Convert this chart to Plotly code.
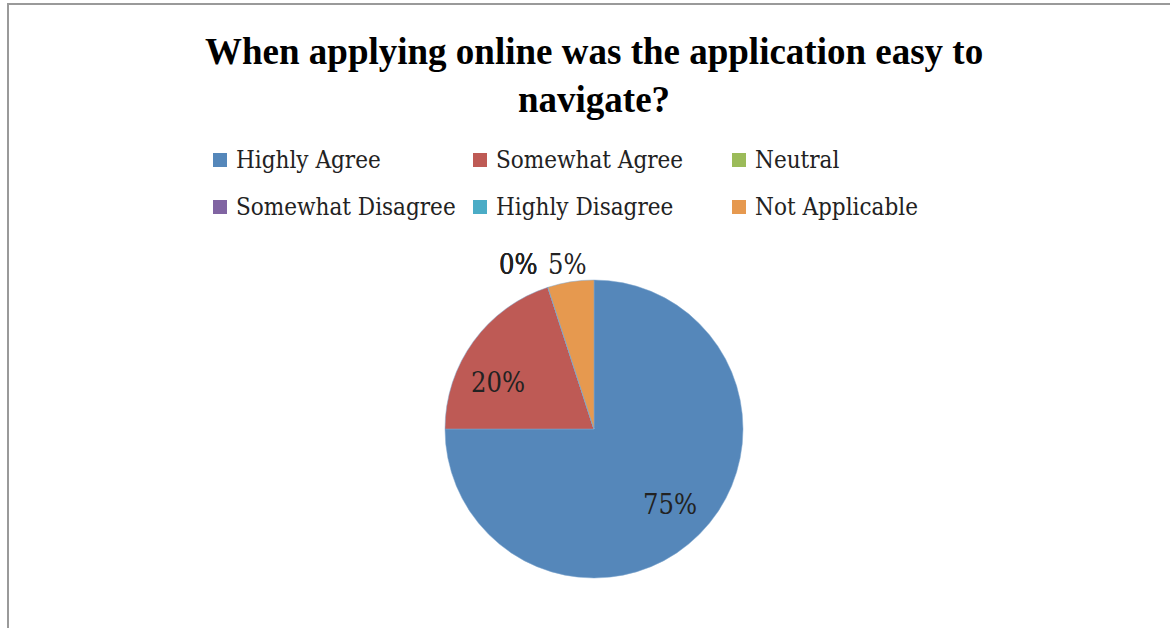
import math
import plotly.graph_objects as go

# Survey responses
categories = ["Highly Agree", "Somewhat Agree", "Neutral",
              "Somewhat Disagree", "Highly Disagree", "Not Applicable"]
shares = [75, 20, 0, 0, 0, 5]
colors = ["#5587BA", "#BE5A55", "#9BBB59", "#8064A2", "#4BACC6", "#E6994F"]
title_text = "<b>When applying online was the application easy to<br>navigate?</b>"

W, H = 1170, 628
label_font = "DejaVu Serif Condensed, Liberation Serif, serif"
text_color = "#222222"

# pie geometry in pixels
cx, cy, R = 594, 429, 149


def px(x):
    return x / W


def py(y):
    return 1 - y / H


fig = go.Figure(go.Pie(
    labels=categories,
    values=shares,
    sort=False,
    direction="clockwise",
    rotation=0,
    marker=dict(colors=colors, line=dict(color="#7FA7CF", width=0.5)),
    textinfo="none",
    domain=dict(x=[px(cx - R), px(cx + R)], y=[py(cy + R), py(cy - R)]),
    showlegend=False,
    hoverinfo="label+percent",
))

annotations = []

# data labels: inside labels near the slice mid-angle, outside labels just past the rim
total = sum(shares)
start = 0.0
label_size = 27
outside_ref = None
for cat, val in zip(categories, shares):
    sweep = 360.0 * val / total
    mid_deg = start + sweep / 2
    start += sweep
    inside = val >= 10
    if inside:
        # nudge large-slice labels toward the roomier side, as a best-fit placement would
        mid_deg -= 0.08 * (mid_deg - 180) if mid_deg > 180 else 0
        r = 0.72 * R
    else:
        r = 1.12 * R
    mid = math.radians(mid_deg)
    x = cx + r * math.sin(mid)
    y = cy - r * math.cos(mid)
    label = f"{val}%"
    if not inside and val > 0:
        outside_ref = (x - 0.3 * label_size * len(label), y)
    annotations.append(dict(text=label, x=px(x), y=py(y), xref="paper", yref="paper",
                            showarrow=False, xanchor="center", yanchor="middle",
                            font=dict(family=label_font, size=label_size, color=text_color)))

# zero-valued labels sit on the same row, left of the small outside label
for a in annotations:
    if a["text"] == "0%" and outside_ref is not None:
        a["x"] = px(outside_ref[0] - 12)
        a["y"] = py(outside_ref[1])
        a["xanchor"] = "right"

# title
annotations.append(dict(
    text=title_text, x=px(594), y=py(75), xref="paper", yref="paper",
    showarrow=False, xanchor="center", yanchor="middle",
    font=dict(family="Liberation Serif, Times New Roman, serif", size=37, color="#000000"),
))

# legend laid out in two rows of three
col_x = [213, 473, 732]
row_y = [160, 207]
sq = 14
shapes = []
for i, (cat, col) in enumerate(zip(categories, colors)):
    lx = col_x[i % 3]
    ly = row_y[i // 3]
    shapes.append(dict(type="rect", xref="paper", yref="paper",
                       x0=px(lx), x1=px(lx + sq), y0=py(ly + sq / 2), y1=py(ly - sq / 2),
                       fillcolor=col, line=dict(width=0)))
    annotations.append(dict(text=cat, x=px(lx + sq + 7), y=py(ly), xref="paper", yref="paper",
                            showarrow=False, xanchor="left", yanchor="middle",
                            font=dict(family=label_font, size=24, color=text_color)))

# chart frame
shapes.append(dict(
    type="rect", xref="paper", yref="paper",
    x0=px(8), x1=1.02, y0=-0.02, y1=py(4),
    line=dict(color="#9A9A9A", width=2),
    fillcolor="rgba(0,0,0,0)",
    layer="below",
))

fig.update_layout(
    width=W, height=H,
    margin=dict(l=0, r=0, t=0, b=0),
    paper_bgcolor="#FFFFFF",
    plot_bgcolor="#FFFFFF",
    showlegend=False,
    annotations=annotations,
    shapes=shapes,
)

fig.write_html("out.html")
